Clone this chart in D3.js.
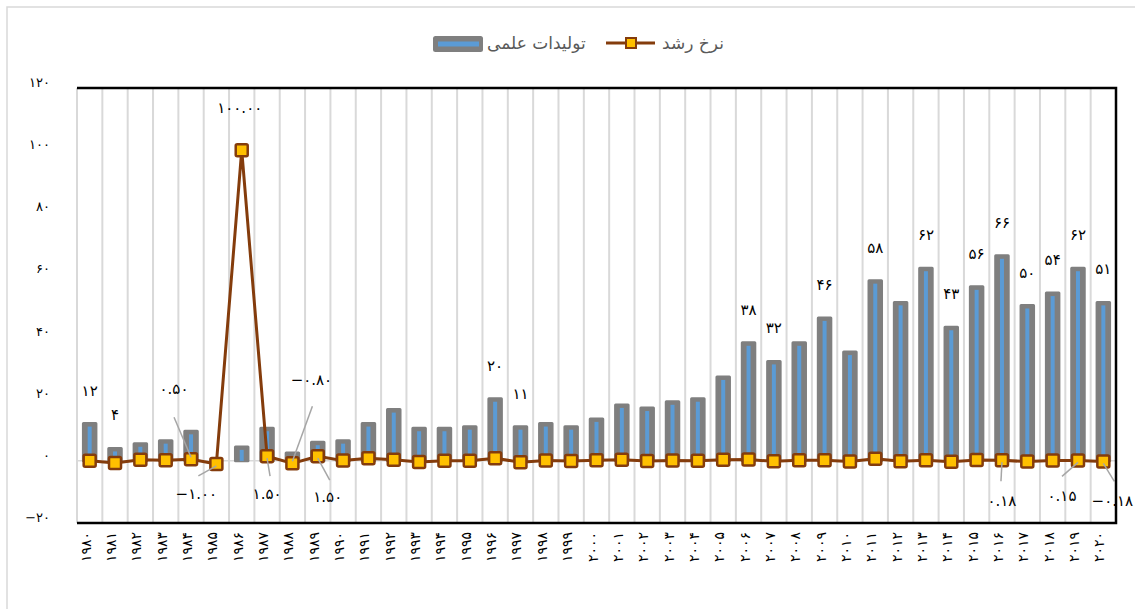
<!DOCTYPE html>
<html>
<head>
<meta charset="utf-8">
<script src="https://cdn.jsdelivr.net/npm/d3@7"></script>
<style>
  body { margin: 0; background: #fff; }
  svg { display: block; font-family: "DejaVu Sans", sans-serif; }
</style>
</head>
<body>
<svg id="chart" width="1135" height="609"></svg>
<script>
// data
var years = [1980, 1981, 1982, 1983, 1984, 1985, 1986, 1987, 1988, 1989,
  1990, 1991, 1992, 1993, 1994, 1995, 1996, 1997, 1998, 1999,
  2000, 2001, 2002, 2003, 2004, 2005, 2006, 2007, 2008, 2009,
  2010, 2011, 2012, 2013, 2014, 2015, 2016, 2017, 2018, 2019, 2020];
var output = [12, 4, 5.5, 6.5, 9.5, 0, 4.5, 10.5, 2.5, 6,
  6.5, 12, 16.5, 10.5, 10.5, 11, 20, 11, 12, 11,
  13.5, 18, 17, 19, 20, 27, 38, 32, 38, 46,
  35, 58, 51, 62, 43, 56, 66, 50, 54, 62, 51];
var growth = [0, -0.67, 0.38, 0.18, 0.50, -1.00, 100.00, 1.50, -0.80, 1.50,
  0.08, 0.85, 0.38, -0.36, 0, 0.05, 0.82, -0.45, 0.09, -0.08,
  0.23, 0.33, -0.06, 0.12, 0.05, 0.35, 0.41, -0.16, 0.19, 0.21,
  -0.24, 0.66, -0.12, 0.22, -0.31, 0.30, 0.18, -0.24, 0.08, 0.15, -0.18];
var barLabelYears = [1980, 1981, 1996, 1997, 2006, 2007, 2009, 2011, 2013, 2014, 2015, 2016, 2017, 2018, 2019, 2020];
var growthLabelYears = [1984, 1985, 1986, 1987, 1988, 1989, 2016, 2019, 2020];
var yTicks = [-20, 0, 20, 40, 60, 80, 100, 120];
var seriesNames = ["تولیدات علمی", "نرخ رشد"];

// label placement (offset of label from its point, and leader start from label)
var growthLabelLayout = {
  1984: { dx: -17, dy: -70, lx: 0, ly: 28 },
  1985: { dx: -20, dy: 30, lx: 2, ly: -18 },
  1986: { dx: -2, dy: -42 },
  1987: { dx: 0, dy: 38, lx: 3, ly: -18 },
  1988: { dx: 19, dy: -83, lx: 1, ly: 26 },
  1989: { dx: 10, dy: 41, lx: 2, ly: -17 },
  2016: { dx: 0, dy: 41, lx: -1, ly: -20 },
  2019: { dx: -16, dy: 36, lx: 0, ly: -20 },
  2020: { dx: 9, dy: 40, lx: 2, ly: -20 }
};

var faDigits = "۰۱۲۳۴۵۶۷۸۹";
function toFa(s) { return String(s).replace(/-/g, "−").replace(/\d/g, function (d) { return faDigits[+d]; }); }

var svg = d3.select("#chart");
var plot = { left: 77, right: 1116, top: 88, bottom: 523 };

// outer chart frame
svg.append("rect").attr("x", 7).attr("y", 7).attr("width", 1160).attr("height", 640)
  .attr("fill", "none").attr("stroke", "#d9d9d9").attr("stroke-width", 1.5);

var x = d3.scaleBand().domain(years).range([plot.left, plot.right]);
var y = d3.scaleLinear().domain([-20, 120]).range([plot.bottom, plot.top]);
var cx = function (yr) { return x(yr) + x.bandwidth() / 2; };

// vertical gridlines at category edges
var edges = years.map(function (yr) { return x(yr); }).concat([plot.right]);
svg.append("g").selectAll("line").data(edges).join("line")
  .attr("x1", function (d) { return d; }).attr("x2", function (d) { return d; })
  .attr("y1", plot.top).attr("y2", plot.bottom)
  .attr("stroke", "#d9d9d9").attr("stroke-width", 2);

// zero line
svg.append("line").attr("x1", plot.left).attr("x2", plot.right).attr("y1", y(0)).attr("y2", y(0))
  .attr("stroke", "#d9d9d9").attr("stroke-width", 1.5);

// bars
var barW = 12.5, innerW = 4;
var bars = svg.append("g").selectAll("g").data(years).join("g");
bars.append("rect")
  .attr("x", function (d) { return cx(d) - barW / 2; })
  .attr("y", function (d, i) { return y(output[i]); })
  .attr("width", barW)
  .attr("height", function (d, i) { return y(0) - y(output[i]); })
  .attr("fill", "#7f7f7f").attr("stroke", "#7f7f7f").attr("stroke-width", 3)
  .attr("stroke-linejoin", "round");
bars.append("rect")
  .attr("x", function (d) { return cx(d) - innerW / 2; })
  .attr("y", function (d, i) { return Math.min(y(output[i]) + 3, y(0)); })
  .attr("width", innerW)
  .attr("height", function (d, i) { return Math.max(0, y(0) - y(output[i]) - 3); })
  .attr("fill", "#5b9bd5");

// growth line
var line = d3.line().x(function (d) { return cx(d); }).y(function (d, i) { return y(growth[i]); });
svg.append("path").datum(years).attr("d", line)
  .attr("fill", "none").attr("stroke", "#843c0c").attr("stroke-width", 3).attr("stroke-linejoin", "round");

var mk = 12;
svg.append("g").selectAll("rect").data(years).join("rect")
  .attr("x", function (d) { return cx(d) - mk / 2; })
  .attr("y", function (d, i) { return y(growth[i]) - mk / 2; })
  .attr("width", mk).attr("height", mk).attr("rx", 1.5)
  .attr("fill", "#ffc000").attr("stroke", "#843c0c").attr("stroke-width", 2.5);

// bar value labels
svg.append("g").selectAll("text").data(barLabelYears).join("text")
  .attr("x", function (d) { return cx(d); })
  .attr("y", function (d) { return y(output[years.indexOf(d)]) - 33; })
  .attr("text-anchor", "middle").attr("dominant-baseline", "central")
  .attr("font-size", 15).attr("fill", "#000")
  .text(function (d) { return toFa(output[years.indexOf(d)]); });

// growth labels + leader lines
var gl = svg.append("g");
growthLabelYears.forEach(function (yr) {
  var i = years.indexOf(yr), L = growthLabelLayout[yr];
  var px = cx(yr), py = y(growth[i]);
  var tx = px + L.dx, ty = py + L.dy;
  if (L.ly !== undefined) {
    var sx = tx + L.lx, sy = ty + L.ly;
    gl.append("line").attr("x1", sx).attr("y1", sy).attr("x2", px).attr("y2", py + (sy > py ? 2 : -2))
      .attr("stroke", "#a6a6a6").attr("stroke-width", 1.5);
  }
  gl.append("text").attr("x", tx).attr("y", ty)
    .attr("text-anchor", "middle").attr("dominant-baseline", "central")
    .attr("font-size", 15).attr("fill", "#000").attr("letter-spacing", "1px")
    .text(toFa(growth[i].toFixed(2)));
});

// plot border (top, right, bottom)
svg.append("path")
  .attr("d", "M" + plot.left + "," + plot.top + "H" + plot.right + "V" + plot.bottom + "H" + plot.left)
  .attr("fill", "none").attr("stroke", "#000").attr("stroke-width", 2.5);

// y axis
var yAxis = svg.append("g").attr("transform", "translate(50,0)")
  .call(d3.axisLeft(y).tickValues(yTicks).tickSize(0).tickPadding(0).tickFormat(toFa));
yAxis.select(".domain").remove();
yAxis.selectAll("text").attr("dy", "-0.12em").attr("font-size", 13).attr("font-family", "DejaVu Sans").attr("fill", "#000");

// x axis
var xAxis = svg.append("g").attr("transform", "translate(0," + plot.bottom + ")")
  .call(d3.axisBottom(x).tickSize(0).tickFormat(toFa));
xAxis.select(".domain").remove();
xAxis.selectAll("text")
  .attr("x", 0).attr("y", 0).attr("dy", null)
  .attr("transform", "translate(-4,9) rotate(-90)")
  .attr("text-anchor", "end").attr("dominant-baseline", "central")
  .attr("font-size", 14).attr("font-family", "DejaVu Sans").attr("letter-spacing", "5px").attr("fill", "#000");

// legend
var lg = svg.append("g");
lg.append("rect").attr("x", 433).attr("y", 36).attr("width", 50).attr("height", 16).attr("rx", 2.5).attr("fill", "#7f7f7f");
lg.append("rect").attr("x", 438).attr("y", 41.5).attr("width", 41).attr("height", 5).attr("fill", "#5b9bd5");
lg.append("text").attr("x", 487).attr("y", 43).attr("dominant-baseline", "central")
  .attr("font-size", 17).attr("fill", "#595959").text(seriesNames[0]);
lg.append("line").attr("x1", 606).attr("x2", 655).attr("y1", 43).attr("y2", 43)
  .attr("stroke", "#843c0c").attr("stroke-width", 3);
lg.append("rect").attr("x", 626).attr("y", 38).attr("width", 10).attr("height", 10)
  .attr("fill", "#ffc000").attr("stroke", "#843c0c").attr("stroke-width", 2);
lg.append("text").attr("x", 662).attr("y", 43).attr("dominant-baseline", "central")
  .attr("font-size", 17).attr("fill", "#595959").text(seriesNames[1]);
</script>
</body>
</html>
